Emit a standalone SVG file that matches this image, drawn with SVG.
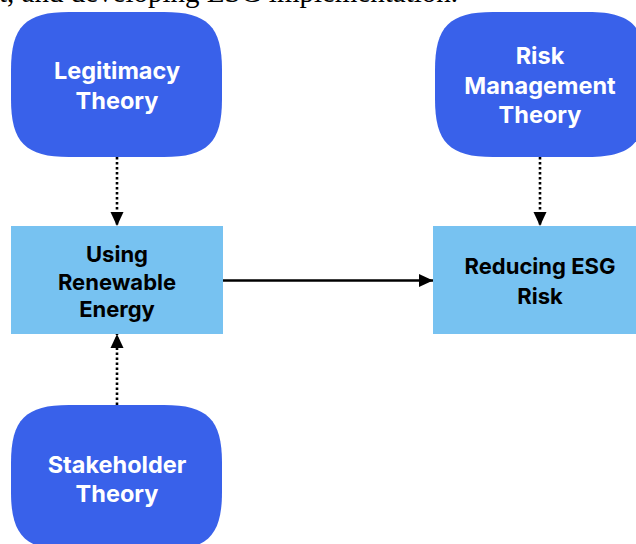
<svg xmlns="http://www.w3.org/2000/svg" width="636" height="544" viewBox="0 0 636 544">
<style>
.theory{fill:#3961EA}
.box{fill:#77C2F1}
.wt{font-family:Inter,"Liberation Sans",sans-serif;font-weight:700;font-size:23.5px;fill:#FFFFFF;text-anchor:middle}
.bt{font-family:Inter,"Liberation Sans",sans-serif;font-weight:700;font-size:22px;fill:#000000;text-anchor:middle}
.dot{stroke:#000;stroke-width:2.6;stroke-dasharray:2.5 2.5;fill:none}
.solid{stroke:#000;stroke-width:2.6;fill:none}
.cap{font-family:"Liberation Serif","Times New Roman",serif;font-size:29px;fill:#000}
</style>
<defs>
<marker id="ah" markerUnits="userSpaceOnUse" markerWidth="14" markerHeight="14" viewBox="0 0 14 14" refX="14" refY="7" orient="auto">
<path d="M0,0.5 L14,7 L0,13.5 Z" fill="#000"/>
</marker>
</defs>
<rect width="636" height="544" fill="#FFFFFF"/>
<text class="cap" x="-1" y="1.5">t, and developing ESG implementation.</text>
<g id="connectors">
<line class="dot" x1="117" y1="157" x2="117" y2="226" marker-end="url(#ah)"/>
<line class="dot" x1="540" y1="157" x2="540" y2="226" marker-end="url(#ah)"/>
<line class="dot" x1="117" y1="405" x2="117" y2="334" marker-end="url(#ah)"/>
<line class="solid" x1="223" y1="280.5" x2="433" y2="280.5" marker-end="url(#ah)"/>
</g>
<g id="legitimacy">
<path class="theory" d="M69,12 H164 C207.5,12 222,26.5 222,70 V99 C222,142.5 207.5,157 164,157 H69 C25.5,157 11,142.5 11,99 V70 C11,26.5 25.5,12 69,12 Z"/>
<text class="wt" x="117" y="79">Legitimacy</text>
<text class="wt" x="117" y="109">Theory</text>
</g>
<g id="risk-management">
<path class="theory" d="M493,12 H588 C631.5,12 646,26.5 646,70 V99 C646,142.5 631.5,157 588,157 H493 C449.5,157 435,142.5 435,99 V70 C435,26.5 449.5,12 493,12 Z"/>
<text class="wt" x="540" y="64">Risk</text>
<text class="wt" x="540" y="94">Management</text>
<text class="wt" x="540" y="123">Theory</text>
</g>
<g id="stakeholder">
<path class="theory" d="M69,405 H164 C207.5,405 222,419.5 222,463 V492 C222,535.5 207.5,550 164,550 H69 C25.5,550 11,535.5 11,492 V463 C11,419.5 25.5,405 69,405 Z"/>
<text class="wt" x="117" y="473">Stakeholder</text>
<text class="wt" x="117" y="502">Theory</text>
</g>
<g id="renewable">
<rect class="box" x="11" y="226" width="212" height="108"/>
<text class="bt" x="117" y="262">Using</text>
<text class="bt" x="117" y="290">Renewable</text>
<text class="bt" x="117" y="317">Energy</text>
</g>
<g id="esg-risk">
<rect class="box" x="433" y="226" width="213" height="108"/>
<text class="bt" x="540" y="274">Reducing ESG</text>
<text class="bt" x="540" y="304">Risk</text>
</g>
</svg>
